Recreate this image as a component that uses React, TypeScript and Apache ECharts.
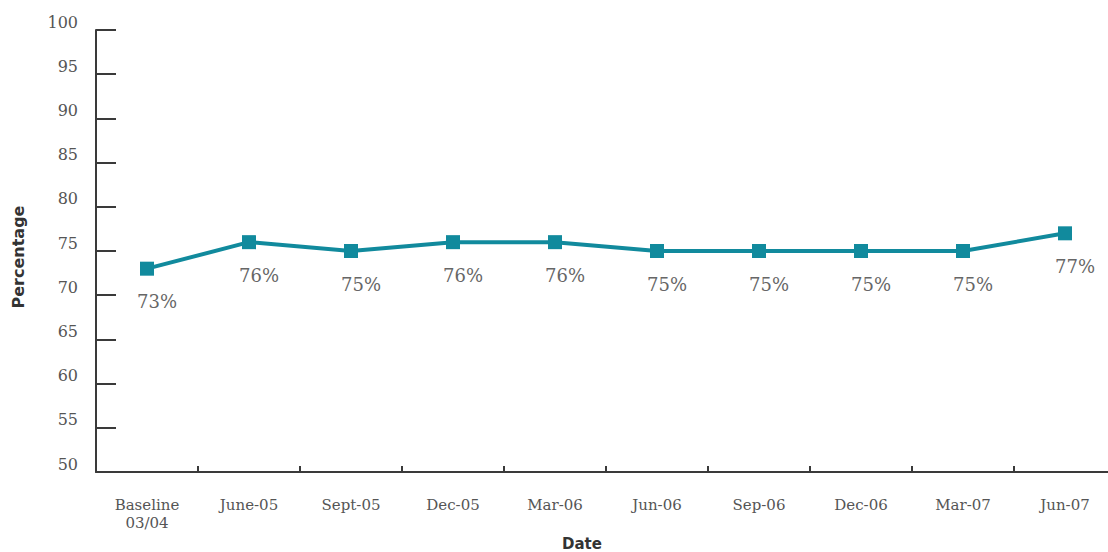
import React, { useEffect, useRef } from "react";
import * as echarts from "echarts";

const categories = [
  "Baseline\n03/04",
  "June-05",
  "Sept-05",
  "Dec-05",
  "Mar-06",
  "Jun-06",
  "Sep-06",
  "Dec-06",
  "Mar-07",
  "Jun-07",
];
const values = [73, 76, 75, 76, 76, 75, 75, 75, 75, 77];
const yMin = 50;
const yMax = 100;
const yStep = 5;

const serif = "'DejaVu Serif', 'Liberation Serif', serif";
const sans = "'DejaVu Sans', sans-serif";

export default function App() {
  const ref = useRef<HTMLDivElement>(null);

  useEffect(() => {
    if (!ref.current) return;
    const chart = echarts.init(ref.current, undefined, { renderer: "svg" });
    chart.setOption({
      animation: false,
      backgroundColor: "#ffffff",
      grid: { left: 96, right: -8, top: 30, bottom: 80, outerBoundsMode: "none" },
      xAxis: {
        type: "category",
        data: categories,
        boundaryGap: true,
        name: "Date",
        nameLocation: "middle",
        nameGap: 63,
        nameTextStyle: {
          fontFamily: sans,
          fontWeight: "bold",
          fontSize: 15,
          color: "#333",
          padding: [0, 48, 0, 0],
        },
        axisLine: { lineStyle: { color: "#3a3a3a", width: 2 } },
        axisTick: { show: true, inside: true, length: 6, lineStyle: { color: "#3a3a3a", width: 2 } },
        axisLabel: {
          fontFamily: serif,
          fontSize: 15,
          color: "#555",
          margin: 24,
          lineHeight: 18,
          interval: 0,
        },
      },
      yAxis: {
        type: "value",
        min: yMin,
        max: yMax,
        interval: yStep,
        name: "Percentage",
        nameLocation: "middle",
        nameGap: 70,
        nameRotate: 90,
        nameTextStyle: {
          fontFamily: sans,
          fontWeight: "bold",
          fontSize: 16,
          color: "#333",
          padding: [0, 12, 0, 0],
        },
        splitLine: { show: false },
        axisLine: { show: true, lineStyle: { color: "#3a3a3a", width: 2 } },
        axisTick: { show: true, inside: true, length: 20, lineStyle: { color: "#3a3a3a", width: 2 } },
        axisLabel: {
          fontFamily: serif,
          fontSize: 16,
          color: "#555",
          margin: 18,
          verticalAlign: "bottom",
        },
      },
      series: [
        {
          type: "line",
          data: values,
          symbol: "rect",
          symbolSize: 14,
          lineStyle: { color: "#118a9d", width: 4 },
          itemStyle: { color: "#118a9d" },
          label: {
            show: true,
            position: "bottom",
            distance: 17,
            offset: [10, 0],
            formatter: "{c}%",
            fontFamily: serif,
            fontSize: 18,
            color: "#666",
          },
        },
      ],
    });
    return () => chart.dispose();
  }, []);

  return (
    <div
      ref={ref}
      style={{ position: "fixed", left: 0, top: 0, width: 1108, height: 552 }}
    />
  );
}
